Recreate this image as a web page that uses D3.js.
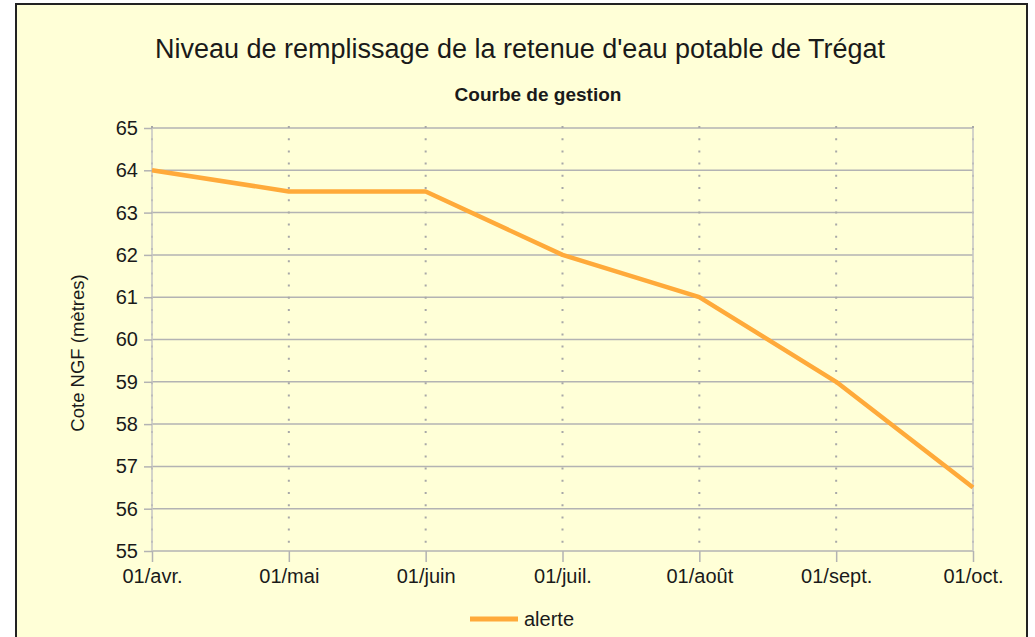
<!DOCTYPE html>
<html>
<head>
<meta charset="utf-8">
<script src="https://cdn.jsdelivr.net/npm/d3@7"></script>
<style>
  body { margin: 0; background: #fff; }
  text { font-family: "Liberation Sans", Arial, sans-serif; fill: #1a1a1a; }
</style>
</head>
<body>
<div id="chart-container"></div>
<script>
const months = ["01/avr.", "01/mai", "01/juin", "01/juil.", "01/août", "01/sept.", "01/oct."];
const alerte = [64, 63.5, 63.5, 62, 61, 59, 56.5];
const yTicks = [55, 56, 57, 58, 59, 60, 61, 62, 63, 64, 65];

const W = 1035, H = 637;
const plot = { left: 152, right: 973, top: 128, bottom: 551 };

var svg = d3.select("#chart-container")
    .append("svg")
    .attr("width", W)
    .attr("height", H);

// Chart background and frame
svg.append("rect")
    .attr("x", 16).attr("y", 4)
    .attr("width", 1011).attr("height", 650)
    .attr("fill", "#ffffd7")
    .attr("stroke", "#222")
    .attr("stroke-width", 2);

var xScale = d3.scalePoint()
    .domain(months)
    .range([plot.left, plot.right]);

var yScale = d3.scaleLinear()
    .domain([55, 65])
    .range([plot.bottom, plot.top]);

// Horizontal gridlines (solid)
svg.append("g")
    .selectAll("line")
    .data(yTicks)
    .join("line")
    .attr("x1", plot.left).attr("x2", plot.right)
    .attr("y1", d => yScale(d)).attr("y2", d => yScale(d))
    .attr("stroke", "#b3b3b3")
    .attr("stroke-width", 1.5);

// Vertical gridlines (dotted)
svg.append("g")
    .selectAll("line")
    .data(months)
    .join("line")
    .attr("x1", d => xScale(d)).attr("x2", d => xScale(d))
    .attr("y1", plot.top - 2).attr("y2", plot.bottom)
    .attr("stroke", "#a8a8a8")
    .attr("stroke-width", 2)
    .attr("stroke-dasharray", "2,10.2");

// Left and right frame lines
svg.append("g")
    .selectAll("line")
    .data([months[0], months[months.length - 1]])
    .join("line")
    .attr("x1", d => xScale(d)).attr("x2", d => xScale(d))
    .attr("y1", plot.top).attr("y2", plot.bottom)
    .attr("stroke", "#c4c4c4")
    .attr("stroke-width", 1.5);

// Y axis
var yAxis = svg.append("g")
    .attr("transform", `translate(${plot.left}, 0)`)
    .call(d3.axisLeft(yScale).tickValues(yTicks).tickSize(8).tickPadding(6).tickFormat(d3.format("d")));
yAxis.select(".domain").remove();
yAxis.selectAll(".tick line").attr("stroke", "#b3b3b3").attr("stroke-width", 1.5);
yAxis.selectAll(".tick text")
    .style("font-size", "20px")
    .style("font-family", "Liberation Sans, Arial, sans-serif")
    .attr("fill", "#1a1a1a");

// X axis
var xAxis = svg.append("g")
    .attr("transform", `translate(0, ${plot.bottom})`)
    .call(d3.axisBottom(xScale).tickSize(11).tickPadding(7));
xAxis.select(".domain").remove();
xAxis.selectAll(".tick line").attr("stroke", "#b3b3b3").attr("stroke-width", 1.5);
xAxis.selectAll(".tick text")
    .style("font-size", "20px")
    .style("font-family", "Liberation Sans, Arial, sans-serif")
    .attr("fill", "#1a1a1a");

// Series line
var line = d3.line()
    .x((d, i) => xScale(months[i]))
    .y(d => yScale(d));

svg.append("path")
    .datum(alerte)
    .attr("fill", "none")
    .attr("stroke", "#ffaa3a")
    .attr("stroke-width", 4.5)
    .attr("stroke-linejoin", "round")
    .attr("d", line);

// Titles
svg.append("text")
    .attr("x", 520).attr("y", 58)
    .attr("text-anchor", "middle")
    .style("font-size", "27px")
    .text("Niveau de remplissage de la retenue d'eau potable de Trégat");

svg.append("text")
    .attr("x", 538).attr("y", 101)
    .attr("text-anchor", "middle")
    .style("font-size", "19px")
    .style("font-weight", "bold")
    .text("Courbe de gestion");

// Y axis title
svg.append("text")
    .attr("transform", "translate(84, 353) rotate(-90)")
    .attr("text-anchor", "middle")
    .style("font-size", "18.5px")
    .text("Cote NGF (mètres)");

// Legend
svg.append("line")
    .attr("x1", 470).attr("x2", 518)
    .attr("y1", 619).attr("y2", 619)
    .attr("stroke", "#ffaa3a")
    .attr("stroke-width", 5);

svg.append("text")
    .attr("x", 524).attr("y", 626)
    .style("font-size", "20px")
    .text("alerte");
</script>
</body>
</html>
